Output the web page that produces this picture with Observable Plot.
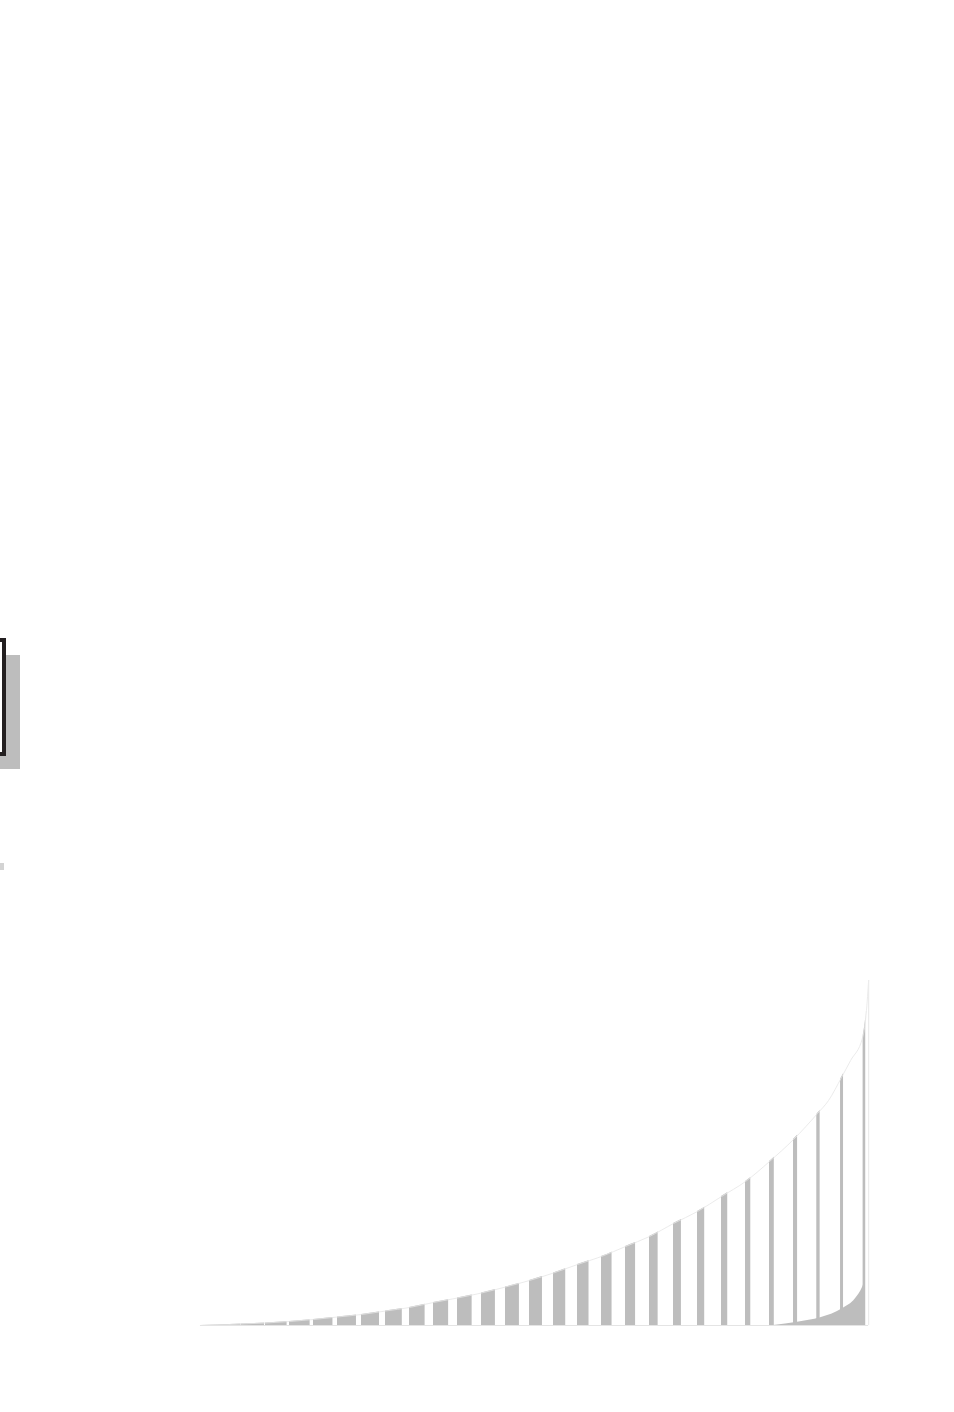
<!DOCTYPE html>
<html>
<head>
<meta charset="utf-8">
<script src="https://cdn.jsdelivr.net/npm/d3@7"></script>
<script src="https://cdn.jsdelivr.net/npm/@observablehq/plot@0.6"></script>
<style>
  body { margin: 0; background: #fff; overflow: hidden; }
  #wrap { position: relative; width: 954px; height: 1412px; overflow: hidden; }
  #chart { position: absolute; left: 0; top: 0; }
  .abs { position: absolute; box-sizing: border-box; }
</style>
</head>
<body>
<div id="wrap">
  <div id="chart"></div>
  <div class="abs" style="left:-200px;top:655px;width:220px;height:114px;background:#bdbdbd;"></div>
  <div class="abs" style="left:-200px;top:638px;width:206px;height:118px;border:4px solid #231f20;background:#fff;"></div>
  <div class="abs" style="left:0;top:863px;width:4px;height:7px;background:#d3d3d3;"></div>
</div>
<script>
// Upper curve (t = bar index units, v = value)
const curveT = [0.29, 1, 2, 3, 4, 5, 6, 7, 8, 9, 10, 11, 12, 13, 14, 15, 16, 17, 18, 19, 20, 21, 22, 23, 24, 25, 26, 26.46, 27, 27.38, 27.88, 28.04, 28.13];
const curveV = [0, 0.5, 1.5, 2.5, 4, 6, 8.5, 11, 14.5, 18, 23, 27.5, 32.5, 38.5, 45, 52.5, 61, 69, 79, 89, 102, 114, 129, 144, 164, 186, 212, 225, 248, 265, 288, 315, 345];
// Lower curve (bottom right)
const lowT = [24.17, 25.17, 26.13, 27.04, 27.58, 27.88, 27.96, 28.0];
const lowV = [0, 3.3, 7.7, 16.7, 26.7, 38.3, 43, 45];
// Stripes: start index and stripe width (index units)
const barStart = [0, 1, 2, 3, 4, 5, 6, 7, 8, 9, 10, 11, 12, 13, 14, 15, 16, 17, 18, 19, 20, 21, 22, 23, 24, 25, 25.97, 26.96, 27.9];
const barWidth = [1.0, 0.98, 0.96, 0.9, 0.86, 0.81, 0.79, 0.75, 0.7, 0.65, 0.63, 0.61, 0.58, 0.58, 0.54, 0.51, 0.48, 0.44, 0.42, 0.36, 0.33, 0.3, 0.26, 0.22, 0.2, 0.17, 0.14, 0.125, 0.11];
const tEnd = 28.13;
const vMax = 345;

const curve = curveT.map((t, i) => ({t, v: curveV[i]}));
const low = lowT.map((t, i) => ({t, v: lowV[i]}));
const gaps = barStart.map((s, i) => ({
  x1: s + barWidth[i],
  x2: i < barStart.length - 1 ? barStart[i + 1] : tEnd + 0.1
})).filter(d => d.x2 > d.x1);

const gray = "#bdbdbd";

const chart = Plot.plot({
  width: 954,
  height: 1412,
  margin: 0,
  x: {domain: [0, 28], range: [193, 865], axis: null},
  y: {domain: [0, vMax], range: [1325, 980], axis: null},
  marks: [
    Plot.areaY(curve, {x: "t", y: "v", fill: gray, curve: "monotone-x"}),
    Plot.rectY(gaps, {x1: "x1", x2: "x2", y1: 0, y2: vMax + 5, fill: "#fff"}),
    Plot.areaY(low, {x: "t", y: "v", fill: gray, curve: "monotone-x"}),
    Plot.line(curve, {x: "t", y: "v", stroke: "#e6e6e6", strokeWidth: 0.8, curve: "monotone-x"}),
    Plot.ruleY([0], {x1: curveT[0], x2: tEnd, stroke: "#e4e4e4", strokeWidth: 1.2}),
    Plot.ruleX([tEnd], {y1: 0, y2: vMax, stroke: "#ececec", strokeWidth: 1.2})
  ]
});
document.getElementById("chart").appendChild(chart);
</script>
</body>
</html>
